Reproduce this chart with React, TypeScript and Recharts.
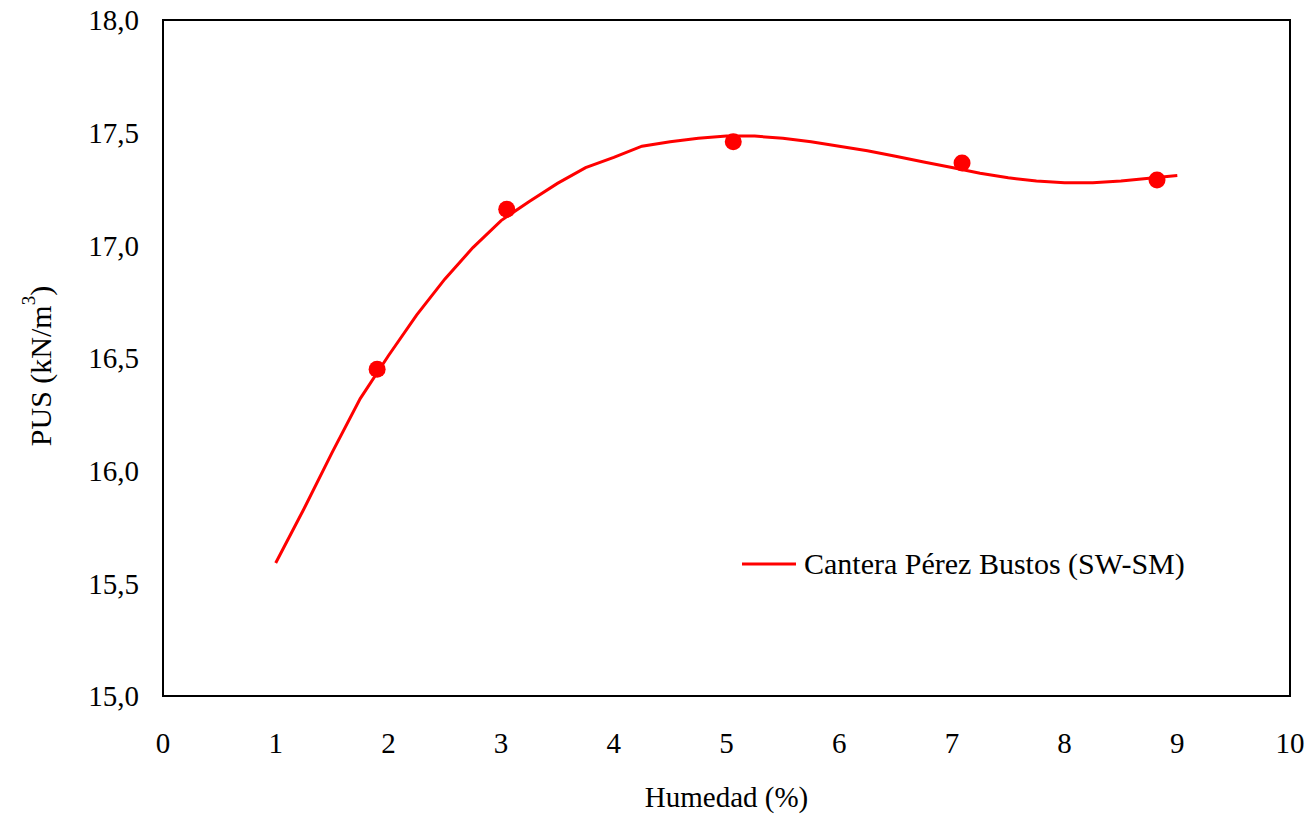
import React from "react";
import {
  ComposedChart,
  Line,
  Scatter,
  XAxis,
  YAxis,
  ReferenceArea,
  Legend,
} from "recharts";

// Measured compaction points: moisture (%) and dry unit weight (kN/m³)
const moisture = [1.9, 3.05, 5.06, 7.09, 8.82];
const unitWeight = [16.45, 17.16, 17.46, 17.365, 17.29];

// Fitted compaction curve
const curveMoisture = [
  1.0, 1.25, 1.5, 1.75, 2.0, 2.25, 2.5, 2.75, 3.0, 3.25, 3.5, 3.75, 4.0, 4.25,
  4.5, 4.75, 5.0, 5.25, 5.5, 5.75, 6.0, 6.25, 6.5, 6.75, 7.0, 7.25, 7.5, 7.75,
  8.0, 8.25, 8.5, 8.75, 9.0,
];
const curveUnitWeight = [
  15.59, 15.83, 16.08, 16.32, 16.51, 16.69, 16.85, 16.99, 17.11, 17.195, 17.275,
  17.345, 17.39, 17.44, 17.46, 17.475, 17.485, 17.485, 17.475, 17.46, 17.44,
  17.42, 17.395, 17.37, 17.345, 17.32, 17.3, 17.285, 17.278, 17.278, 17.285,
  17.298, 17.31,
];

const xTicks = [0, 1, 2, 3, 4, 5, 6, 7, 8, 9, 10];
const yTicks = [15, 15.5, 16, 16.5, 17, 17.5, 18];

const seriesName = "Cantera Pérez Bustos (SW-SM)";
const xTitle = "Humedad (%)";

const points = moisture.map((x, i) => ({ x, y: unitWeight[i] }));
const curve = curveMoisture.map((x, i) => ({ x, y: curveUnitWeight[i] }));

const RED = "#FF0000";
const FONT = "'Liberation Serif', 'Times New Roman', serif";

const fmt = (v: number) => v.toFixed(1).replace(".", ",");

const YTitle = (props: any) => {
  const vb = props.viewBox || {};
  const cx = 40;
  const cy = (vb.y ?? 20) + (vb.height ?? 676) / 2 + 8;
  return (
    <text
      x={cx}
      y={cy}
      transform={`rotate(-90, ${cx}, ${cy})`}
      textAnchor="middle"
      dominantBaseline="central"
      fontFamily={FONT}
      fontSize={30}
      fill="#000"
    >
      <tspan>PUS (kN/m</tspan>
      <tspan dy={-12} fontSize={19}>3</tspan>
      <tspan dy={12}>)</tspan>
    </text>
  );
};

const LegendBox = () => (
  <div
    style={{
      display: "flex",
      alignItems: "center",
      fontFamily: FONT,
      fontSize: 30,
      color: "#000",
      whiteSpace: "nowrap",
    }}
  >
    <svg width={54} height={6} style={{ marginRight: 8 }}>
      <line x1={0} y1={3} x2={54} y2={3} stroke={RED} strokeWidth={3} />
    </svg>
    <span>{seriesName}</span>
  </div>
);

export default function App() {
  return (
    <div
      style={{
        position: "absolute",
        left: 0,
        top: 0,
        width: 1310,
        height: 817,
        background: "#fff",
      }}
    >
      <ComposedChart
        width={1310}
        height={817}
        margin={{ top: 20, right: 20, left: 0, bottom: 0 }}
        style={{ fontFamily: FONT }}
      >
        <XAxis
          type="number"
          dataKey="x"
          domain={[0, 10]}
          ticks={xTicks}
          allowDataOverflow
          axisLine={false}
          tickLine={false}
          tickSize={0}
          tickMargin={36}
          height={121}
          tick={{ fontFamily: FONT, fontSize: 29, fill: "#000" }}
          label={{
            value: xTitle,
            position: "insideBottom",
            offset: 10,
            style: { fontFamily: FONT, fontSize: 29, fill: "#000" },
          }}
        />
        <YAxis
          type="number"
          dataKey="y"
          domain={[15, 18]}
          ticks={yTicks}
          allowDataOverflow
          axisLine={false}
          tickLine={false}
          tickSize={0}
          tickMargin={24}
          width={163}
          tickFormatter={fmt}
          tick={{ fontFamily: FONT, fontSize: 29, fill: "#000" }}
          label={{ content: YTitle }}
        />
        <ReferenceArea
          x1={0}
          x2={10}
          y1={15}
          y2={18}
          fill="none"
          stroke="#000"
          strokeWidth={2}
        />
        <Line
          data={curve}
          dataKey="y"
          type="linear"
          stroke={RED}
          strokeWidth={3}
          dot={false}
          activeDot={false}
          legendType="line"
          name={seriesName}
          isAnimationActive={false}
        />
        <Scatter
          data={points}
          dataKey="y"
          fill={RED}
          legendType="none"
          isAnimationActive={false}
          shape={(p: any) => (
            <circle cx={p.cx} cy={p.cy} r={8.5} fill={RED} />
          )}
        />
        <Legend
          layout="horizontal"
          verticalAlign="middle"
          align="center"
          content={LegendBox}
          wrapperStyle={{ left: 742, top: 547, width: "auto" }}
        />
      </ComposedChart>
    </div>
  );
}
